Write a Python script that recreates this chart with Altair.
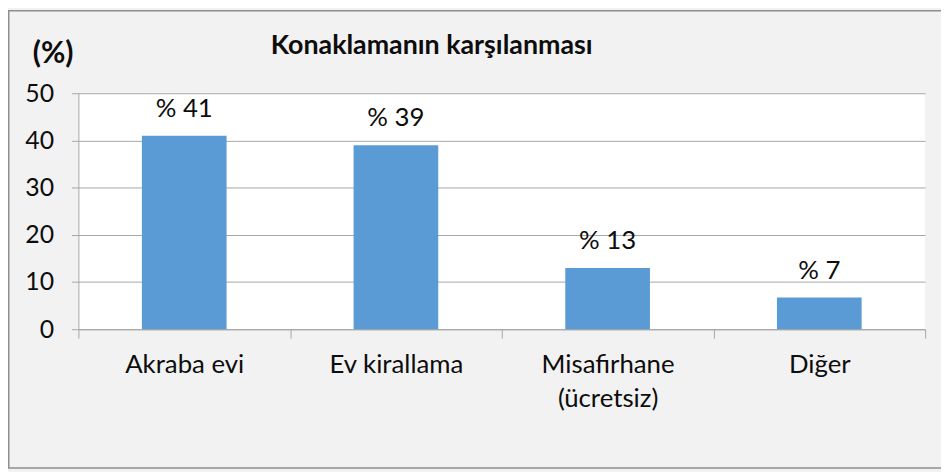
import altair as alt
import pandas as pd

categories = ["Akraba evi", "Ev kirallama", "Misafirhane\n(ücretsiz)", "Diğer"]
values = [41, 39, 13, 6.7]
value_labels = ["% 41", "% 39", "% 13", "% 7"]
title_text = "Konaklamanın karşılanması"
unit_text = "(%)"
y_ticks = [0, 10, 20, 30, 40, 50]

FONT = "Lato"
W, H = 854, 238
PAD_L, PAD_T = 71, 84
TOTAL_W, TOTAL_H = 941, 464

df = pd.DataFrame({"cat": categories, "val": values, "lbl": value_labels})

x_enc = alt.X(
    "cat:N",
    sort=categories,
    scale=alt.Scale(paddingInner=0, paddingOuter=0),
    axis=alt.Axis(
        title=None,
        labelAngle=0,
        labelFont=FONT,
        labelFontSize=26,
        labelColor="#0D0D0D",
        labelPadding=14,
        labelLineHeight=34,
        labelExpr="split(datum.label, '\\n')",
        tickBand="extent",
        tickSize=9,
        tickColor="#A6A6A6",
        domainColor="#A6A6A6",
        grid=False,
    ),
)
y_enc = alt.Y(
    "val:Q",
    scale=alt.Scale(domain=[0, 50], nice=False),
    axis=alt.Axis(
        title=None,
        values=y_ticks,
        labelFont=FONT,
        labelFontSize=25,
        labelColor="#0D0D0D",
        labelPadding=18,
        tickSize=7,
        tickColor="#A6A6A6",
        domainColor="#A6A6A6",
        gridColor="#A6A6A6",
        grid=True,
    ),
)

bars = alt.Chart(df).mark_bar(
    color="#5B9BD5", width=alt.RelativeBandSize(0.4)
).encode(x=x_enc, y=y_enc)

texts = alt.Chart(df).mark_text(
    font=FONT, fontSize=26, color="#0D0D0D", baseline="alphabetic", dy=-19
).encode(x=alt.X("cat:N", sort=categories), y=alt.Y("val:Q"), text="lbl:N")

title_df = pd.DataFrame({"t": [title_text]})
title_mark = alt.Chart(title_df).mark_text(
    font=FONT, fontSize=27, fontWeight="bold", color="#0D0D0D",
    align="left", baseline="alphabetic"
).encode(x=alt.value(194), y=alt.value(-40), text="t:N")

unit_df = pd.DataFrame({"t": [unit_text]})
unit_mark = alt.Chart(unit_df).mark_text(
    font=FONT, fontSize=30, fontWeight="bold", color="#0D0D0D",
    align="left", baseline="alphabetic"
).encode(x=alt.value(-46), y=alt.value(-31), text="t:N")

border_df = pd.DataFrame({"b": [1]})
border = alt.Chart(border_df).mark_rect(
    fill=None, fillOpacity=0, stroke="#8E8E8E", strokeWidth=1.5
).encode(
    x=alt.value(-PAD_L + 0.75),
    x2=alt.value(TOTAL_W - PAD_L + 20),
    y=alt.value(-PAD_T + 0.75),
    y2=alt.value(TOTAL_H - PAD_T - 2),
)

chart = alt.layer(border, bars, texts, title_mark, unit_mark).properties(
    width=W,
    height=H,
    autosize=alt.AutoSizeParams(type="none"),
    padding={"left": PAD_L, "top": PAD_T, "right": TOTAL_W - PAD_L - W, "bottom": TOTAL_H - PAD_T - H},
    background="#F2F2F2",
).configure_view(fill="white", stroke=None)

chart.save("out.html", embed_options={"renderer": "svg", "actions": False})
